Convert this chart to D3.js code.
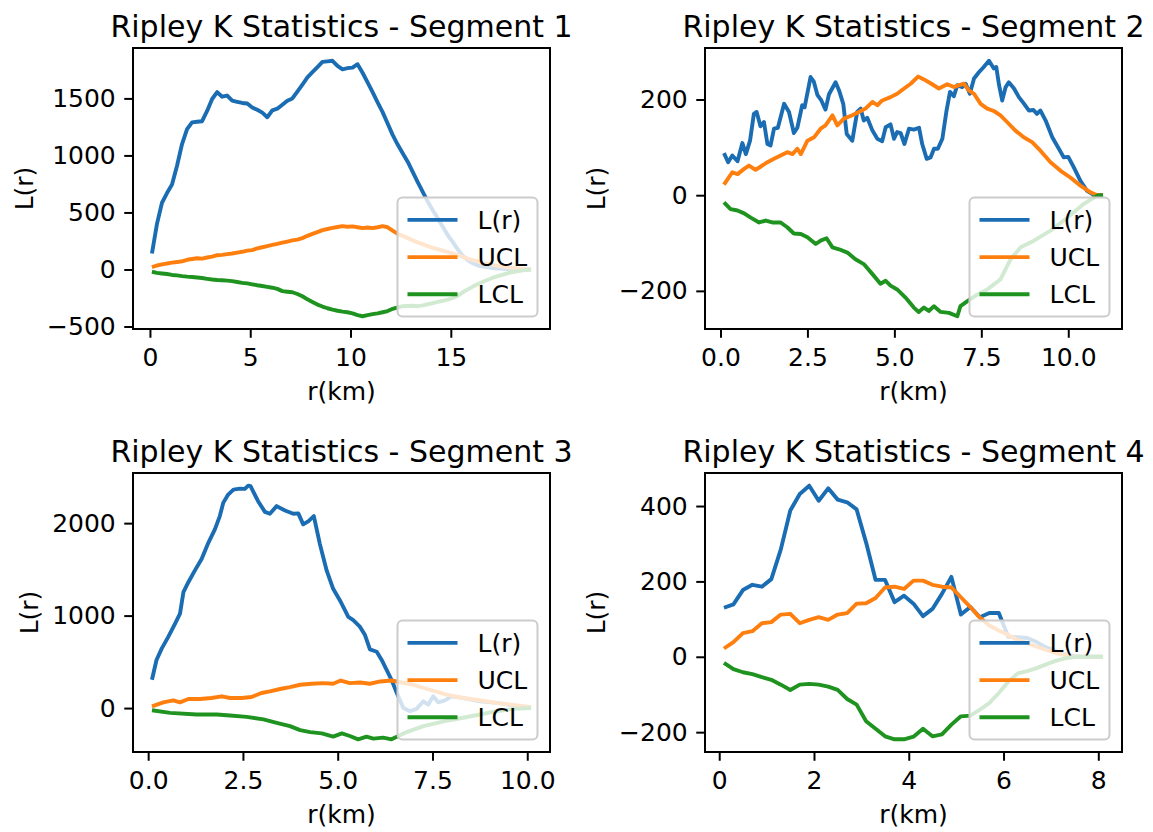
<!DOCTYPE html>
<html>
<head>
<meta charset="utf-8">
<script src="https://cdn.jsdelivr.net/npm/d3@7"></script>
<style>
  html, body { margin: 0; padding: 0; background: #ffffff; }
  svg { display: block; }
  text { font-family: "DejaVu Sans", sans-serif; fill: #000; }
</style>
</head>
<body>
<svg id="chart" width="1153" height="832"></svg>
<script>
// ---------------- DATA ----------------
const seriesNames = ["L(r)", "UCL", "LCL"];
const titles = ["Ripley K Statistics - Segment 1", "Ripley K Statistics - Segment 2",
                "Ripley K Statistics - Segment 3", "Ripley K Statistics - Segment 4"];
const xLabel = "r(km)";
const yLabel = "L(r)";

// Segment 1
const seg1R = [0.1,0.35,0.6,0.85,1.1,1.35,1.6,1.85,2.1,2.35,2.6,2.85,3.1,3.35,3.6,3.85,4.1,4.35,4.6,4.85,
  5.1,5.35,5.6,5.85,6.1,6.35,6.6,6.85,7.1,7.35,7.6,7.85,8.1,8.35,8.6,8.85,9.1,9.35,9.6,9.85,
  10.1,10.35,10.6,10.85,11.1,11.35,11.6,11.85,12.1,12.35,12.6,12.85,13.1,13.35,13.6,13.85,14.1,14.35,14.6,14.85,
  15.1,15.35,15.6,15.85,16.1,16.35,16.6,16.85,17.1,17.35,17.6,17.85,18.1,18.35,18.6,18.85,19.0];
const seg1L = [140,400,585,670,745,910,1100,1230,1290,1295,1300,1390,1495,1555,1515,1525,1480,1470,1460,1455,
  1420,1400,1375,1335,1395,1410,1445,1480,1500,1560,1620,1685,1730,1775,1820,1825,1830,1785,1755,1765,
  1770,1800,1725,1640,1555,1465,1380,1280,1180,1095,1020,945,855,765,680,595,520,450,375,300,
  240,175,120,80,55,35,25,18,12,9,6,4,3,2,1,0,0];
const seg1UCL = [20,35,45,52,60,65,72,85,92,98,95,105,112,125,128,135,140,148,155,165,
  170,185,195,205,215,225,235,245,255,262,275,295,312,328,345,355,365,372,380,375,
  378,370,362,368,362,370,380,370,340,312,295,275,255,238,222,205,190,178,165,152,
  140,125,110,95,82,70,58,48,40,32,25,19,15,10,6,3,2];
const seg1LCL = [-20,-30,-35,-40,-48,-52,-58,-63,-66,-70,-75,-82,-88,-92,-95,-98,-102,-110,-118,-122,
  -130,-138,-145,-152,-160,-170,-190,-195,-200,-215,-235,-262,-285,-308,-325,-340,-352,-362,-370,-375,
  -385,-400,-410,-400,-392,-385,-375,-365,-345,-332,-322,-320,-318,-322,-315,-305,-295,-285,-275,-265,
  -250,-230,-200,-175,-150,-128,-108,-90,-72,-58,-45,-32,-22,-14,-8,-3,0];
const seg1XTicks = [0, 5, 10, 15];
const seg1YTicks = [-500, 0, 500, 1000, 1500];

// Segment 2
const seg2RL = [0.1,0.22,0.34,0.49,0.63,0.73,0.85,0.96,1.04,1.15,1.25,1.35,1.44,1.54,1.65,1.83,1.97,2.11,2.21,2.35,
  2.42,2.59,2.68,2.79,2.9,3.02,3.12,3.31,3.41,3.53,3.63,3.79,3.93,4.03,4.12,4.22,4.37,4.51,4.65,4.75,
  4.89,4.99,5.08,5.18,5.29,5.42,5.56,5.71,5.8,5.93,6.04,6.14,6.25,6.38,6.5,6.6,6.71,6.81,6.95,7.05,
  7.17,7.29,7.43,7.57,7.72,7.86,7.93,8.01,8.1,8.2,8.29,8.44,8.58,8.72,8.87,9.0,9.1,9.2,9.35,9.54,
  9.73,9.87,10.0,10.16,10.35,10.54,10.73,11.0];
const seg2L = [88,69,83,71,109,86,114,170,174,144,153,107,104,139,141,191,174,130,141,188,
  184,247,238,209,198,179,211,236,219,191,128,114,174,181,156,162,135,118,113,142,
  148,118,132,130,107,139,137,141,107,76,79,97,97,118,177,216,207,230,226,233,
  212,244,257,268,281,265,268,230,198,226,236,223,205,192,177,178,170,177,156,121,
  97,79,80,58,30,9,1,0];
const seg2RU = [0.1,0.34,0.49,0.68,0.82,1.01,1.16,1.35,1.54,1.73,1.92,2.07,2.21,2.31,2.5,2.69,2.88,3.02,3.22,3.36,
  3.55,3.79,3.98,4.17,4.37,4.51,4.65,4.89,5.08,5.28,5.47,5.68,5.85,6.04,6.28,6.52,6.71,6.86,7.0,7.14,
  7.29,7.48,7.67,7.86,8.05,8.24,8.48,8.72,8.96,9.2,9.49,9.78,10.06,10.35,10.64,10.83,11.0];
const seg2UCL = [22,48,44,55,62,53,60,69,76,83,90,86,97,86,114,121,139,146,167,146,
  160,167,174,181,195,188,198,205,212,223,233,248,242,234,223,232,226,230,233,219,
  212,191,181,176,167,153,135,121,111,93,69,51,37,20,6,0,0];
const seg2RC = [0.1,0.29,0.49,0.68,0.87,1.11,1.3,1.49,1.73,1.92,2.11,2.31,2.5,2.74,2.88,3.05,3.22,3.41,3.65,3.88,
  4.12,4.37,4.6,4.75,4.89,5.08,5.32,5.56,5.7,5.85,5.99,6.14,6.33,6.57,6.81,6.9,7.09,7.38,7.67,8.05,
  8.34,8.63,9.01,9.49,9.97,10.45,10.83,11.0];
const seg2LCL = [-15,-29,-32,-38,-47,-57,-53,-57,-57,-67,-80,-81,-88,-102,-95,-90,-109,-113,-120,-134,
  -144,-165,-185,-179,-189,-197,-214,-235,-244,-235,-242,-232,-244,-246,-253,-232,-222,-208,-197,-176,
  -134,-109,-95,-74,-47,-18,-1,0];
const seg2XTicks = [0, 2.5, 5, 7.5, 10];
const seg2YTicks = [-200, 0, 200];

// Segment 3
const seg3RL = [0.1,0.22,0.36,0.53,0.71,0.84,0.93,1.06,1.23,1.41,1.59,1.76,1.89,1.98,2.11,2.25,2.42,2.55,2.64,2.7,
  2.9,3.08,3.21,3.39,3.61,3.83,3.96,4.09,4.23,4.37,4.53,4.71,4.88,5.06,5.28,5.41,5.59,5.72,5.85,6.03,
  6.16,6.29,6.42,6.56,6.73,6.91,7.08,7.26,7.39,7.52,7.65,7.83,8.0,8.31,8.75,9.19,9.63,10.1];
const seg3L = [306,520,646,770,914,1021,1253,1361,1486,1612,1790,1933,2076,2219,2309,2363,2373,2370,2405,2400,
  2237,2122,2101,2184,2137,2101,2105,1987,2022,2076,1773,1486,1290,1164,985,950,878,789,635,609,
  520,413,306,163,2,-34,-9,73,38,127,62,84,127,109,73,56,27,10];
const seg3RU = [0.1,0.4,0.66,0.84,1.06,1.37,1.67,1.94,2.16,2.47,2.73,2.99,3.21,3.48,3.74,4.01,4.31,4.62,4.88,5.08,
  5.32,5.59,5.85,6.12,6.42,6.99,7.43,7.87,8.31,8.75,9.19,9.63,10.1];
const seg3UCL = [19,62,84,62,98,98,109,127,109,109,120,163,180,206,227,252,263,270,263,298,
  270,277,263,288,298,252,198,145,109,84,56,34,10];
const seg3RC = [0.1,0.58,1.28,1.81,2.16,2.6,3.04,3.39,3.74,4.01,4.27,4.58,4.88,5.11,5.32,5.54,5.76,5.94,6.2,6.42,
  6.82,7.26,7.83,8.31,8.75,9.19,9.63,10.1];
const seg3LCL = [-24,-52,-70,-70,-80,-95,-123,-159,-195,-238,-260,-274,-309,-274,-302,-338,-309,-330,-320,-338,
  -260,-195,-142,-105,-70,-34,-9,0];
const seg3XTicks = [0, 2.5, 5, 7.5, 10];
const seg3YTicks = [0, 1000, 2000];

// Segment 4
const seg4R = [0.1,0.3,0.5,0.7,0.9,1.1,1.3,1.5,1.7,1.9,2.1,2.3,2.5,2.7,2.9,3.1,3.3,3.5,3.7,3.9,
  4.1,4.3,4.5,4.7,4.9,5.1,5.3,5.5,5.7,5.9,6.1,6.3,6.5,6.7,6.9,7.1,7.3,7.5,7.7,7.9,8.1];
const seg4L = [130,139,177,191,186,206,285,388,432,454,414,447,417,410,391,303,204,204,145,162,
  141,108,127,167,212,112,132,105,116,116,53,52,50,39,25,15,6,2,0,0,0];
const seg4UCL = [22,39,63,68,89,92,112,114,89,98,105,98,112,116,141,142,156,184,186,180,
  202,202,191,186,184,158,132,104,83,70,58,44,36,27,18,10,4,0,0,0,0];
const seg4LCL = [-16,-33,-41,-46,-54,-61,-74,-88,-74,-72,-74,-79,-88,-112,-127,-171,-191,-211,-219,-219,
  -212,-191,-211,-206,-180,-158,-156,-140,-123,-96,-66,-44,-38,-30,-20,-11,-4,-1,0,0,0];
const seg4XTicks = [0, 2, 4, 6, 8];
const seg4YTicks = [-200, 0, 200, 400];

const colors = ["#1a6cb3", "#ff7f0e", "#1f931f"];

// ---------------- LAYOUT ----------------
const panels = [
  { title: titles[0], box: [133, 48, 550, 329],
    series: [[seg1R, seg1L], [seg1R, seg1UCL], [seg1R, seg1LCL]],
    xTicks: seg1XTicks, yTicks: seg1YTicks, xFmt: d3.format("d") },
  { title: titles[1], box: [705, 48, 1122, 329],
    series: [[seg2RL, seg2L], [seg2RU, seg2UCL], [seg2RC, seg2LCL]],
    xTicks: seg2XTicks, yTicks: seg2YTicks, xFmt: d3.format(".1f") },
  { title: titles[2], box: [133, 473, 550, 752],
    series: [[seg3RL, seg3L], [seg3RU, seg3UCL], [seg3RC, seg3LCL]],
    xTicks: seg3XTicks, yTicks: seg3YTicks, xFmt: d3.format(".1f") },
  { title: titles[3], box: [705, 473, 1122, 752],
    series: [[seg4R, seg4L], [seg4R, seg4UCL], [seg4R, seg4LCL]],
    xTicks: seg4XTicks, yTicks: seg4YTicks, xFmt: d3.format("d") }
];

const FS = 25;       // base font size
const TITLE_FS = 30;
const TICK_LEN = 8.75;
const LINE_W = 3.9;

const svg = d3.select("#chart");
svg.append("rect").attr("width", 1153).attr("height", 832).attr("fill", "#fff");

function padExtent(ext) {
  const span = ext[1] - ext[0];
  return [ext[0] - span * 0.05, ext[1] + span * 0.05];
}

panels.forEach(p => {
  const [x0, y0, x1, y1] = p.box;
  const pts = p.series.map(([rs, vs]) => d3.zip(rs, vs));
  const all = pts.flat();
  const x = d3.scaleLinear().domain(padExtent(d3.extent(all, d => d[0]))).range([x0, x1]);
  const y = d3.scaleLinear().domain(padExtent(d3.extent(all, d => d[1]))).range([y1, y0]);

  const g = svg.append("g");

  // lines
  const line = d3.line().x(d => x(d[0])).y(d => y(d[1]));
  pts.forEach((ps, i) => {
    g.append("path").datum(ps)
      .attr("d", line)
      .attr("fill", "none")
      .attr("stroke", colors[i])
      .attr("stroke-width", LINE_W)
      .attr("stroke-linejoin", "round")
      .attr("stroke-linecap", "butt");
  });

  // axes
  const xAxis = g.append("g").attr("transform", `translate(0,${y1})`)
    .call(d3.axisBottom(x).tickValues(p.xTicks).tickFormat(p.xFmt).tickSize(TICK_LEN).tickPadding(10.5));
  const yAxis = g.append("g").attr("transform", `translate(${x0},0)`)
    .call(d3.axisLeft(y).tickValues(p.yTicks).tickFormat(d3.format("d")).tickSize(TICK_LEN).tickPadding(8.5));
  [xAxis, yAxis].forEach(a => {
    a.select(".domain").remove();
    a.selectAll(".tick line").attr("stroke", "#000").attr("stroke-width", 2);
    a.selectAll(".tick text").attr("font-size", FS).attr("font-family", "DejaVu Sans").attr("fill", "#000");
  });

  // frame (spines)
  g.append("rect").attr("x", x0).attr("y", y0).attr("width", x1 - x0).attr("height", y1 - y0)
    .attr("fill", "none").attr("stroke", "#000").attr("stroke-width", 2);

  // title
  g.append("text").attr("x", (x0 + x1) / 2).attr("y", y0 - 11)
    .attr("text-anchor", "middle").attr("font-size", TITLE_FS).text(p.title);

  // x label
  g.append("text").attr("x", (x0 + x1) / 2).attr("y", y1 + 71)
    .attr("text-anchor", "middle").attr("font-size", FS).text(xLabel);

  // y label
  const bb = yAxis.node().getBBox();
  const labX = x0 + bb.x - 14;
  g.append("text")
    .attr("transform", `translate(${labX},${(y0 + y1) / 2}) rotate(-90)`)
    .attr("text-anchor", "middle").attr("font-size", FS).text(yLabel);

  // legend
  const lw = 140, lh = 119;
  const lxp = x1 - 12.5 - lw, lyp = y1 - 12.5 - lh;
  const lg = g.append("g").attr("transform", `translate(${lxp},${lyp})`);
  lg.append("rect").attr("width", lw).attr("height", lh).attr("rx", 5).attr("ry", 5)
    .attr("fill", "#fff").attr("fill-opacity", 0.8)
    .attr("stroke", "#cccccc").attr("stroke-width", 2);
  seriesNames.forEach((name, i) => {
    const cy = 22.4 + i * 37.2;
    lg.append("line").attr("x1", 10).attr("x2", 60).attr("y1", cy).attr("y2", cy)
      .attr("stroke", colors[i]).attr("stroke-width", LINE_W);
    lg.append("text").attr("x", 80).attr("y", cy + 9).attr("font-size", FS).text(name);
  });
});
</script>
</body>
</html>
